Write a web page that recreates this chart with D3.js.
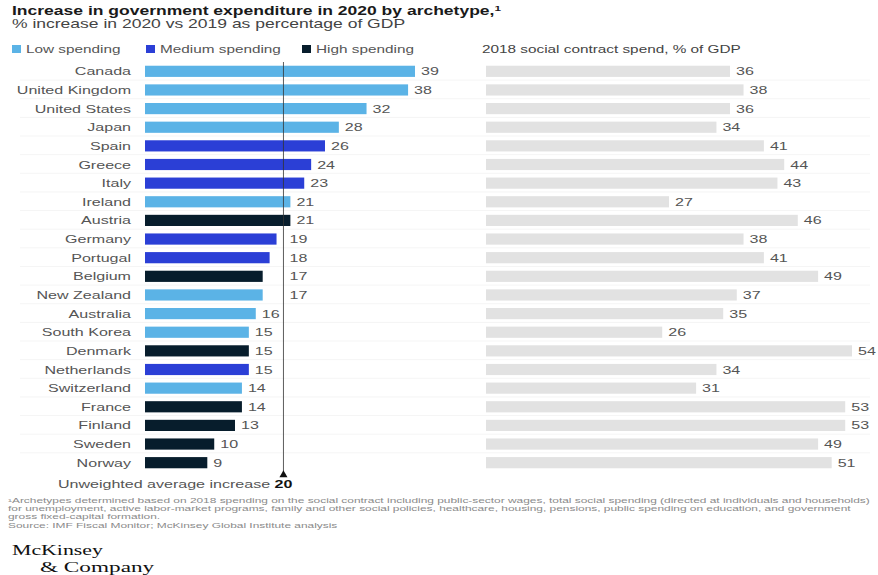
<!DOCTYPE html>
<html><head><meta charset="utf-8">
<script src="https://cdn.jsdelivr.net/npm/d3@7"></script>
<style>body{margin:0;background:#fff;}svg{display:block;font-family:"Liberation Sans",Arial,sans-serif;}</style>
</head><body><svg id="c" width="878" height="575"></svg>
<script>
const countries = ["Canada","United Kingdom","United States","Japan","Spain","Greece","Italy","Ireland","Austria","Germany","Portugal","Belgium","New Zealand","Australia","South Korea","Denmark","Netherlands","Switzerland","France","Finland","Sweden","Norway"];
const increase2020 = [39,38,32,28,26,24,23,21,21,19,18,17,17,16,15,15,15,14,14,13,10,9];
const archetype = ["Low","Low","Low","Low","Medium","Medium","Medium","Low","High","Medium","Medium","High","Low","Low","Low","High","Medium","Low","High","High","High","High"];
const socialSpend2018 = [36,38,36,34,41,44,43,27,46,38,41,49,37,35,26,54,34,31,53,53,49,51];
const archetypes = ["Low","Medium","High"];
const legendLabels = ["Low spending","Medium spending","High spending"];
const averageIncrease = 20;

const K = 1.46; // horizontal text stretch of the reference
const svg = d3.select("#c");
function T(parent, x, y, str, o = {}) {
  const t = parent.append("text")
    .attr("transform", `translate(${x},${y}) scale(${o.k || K},1)`)
    .attr("font-size", o.size || 11)
    .attr("fill", o.fill || "#555")
    .attr("text-anchor", o.anchor || "start");
  if (o.weight) t.attr("font-weight", o.weight);
  if (o.family) t.attr("font-family", o.family);
  if (str !== null) t.text(str);
  return t;
}

const colors = d3.scaleOrdinal().domain(archetypes).range(["#5bb3e6","#2b3fd6","#071d2c"]);
const y = d3.scaleBand().domain(countries).range([62, 472]).paddingInner(0.4).paddingOuter(0.2);
const xL = d3.scaleLinear().domain([0, 39]).range([145, 415]);
const xR = d3.scaleLinear().domain([0, 54]).range([486, 852]);

// faint row separators
svg.append("g").selectAll("line").data(countries.slice(1)).join("line")
  .attr("x1", 20).attr("x2", 870)
  .attr("y1", d => y(d) - y.step()*y.paddingInner()/2 - 0.5).attr("y2", d => y(d) - y.step()*y.paddingInner()/2 - 0.5)
  .attr("stroke", "#f5f5f5").attr("stroke-width", 1);

// Title
const title = T(svg, 12, 15, null, {size: 12, weight: "bold", fill: "#1a1a1a"});
title.append("tspan").text("Increase in government expenditure in 2020 by archetype,");
title.append("tspan").attr("font-size", 8).attr("dy", -4).text("1");
T(svg, 12, 28, "% increase in 2020 vs 2019 as percentage of GDP", {size: 12, fill: "#444"});

// Legend
const lgX = [12, 146, 302];
archetypes.forEach((a, i) => {
  svg.append("rect").attr("x", lgX[i]).attr("y", 45).attr("width", 9).attr("height", 8).attr("fill", colors(a));
  T(svg, lgX[i] + 14, 53, legendLabels[i], {size: 10.5});
});
T(svg, 482, 53, "2018 social contract spend, % of GDP", {size: 10.5, fill: "#444"});

// Country labels
countries.forEach(c => T(svg, 131, y(c) + y.bandwidth()/2 + 4, c, {anchor: "end"}));

// Left bars
const rows = countries.map((c, i) => ({c, v: increase2020[i], a: archetype[i], s: socialSpend2018[i]}));
svg.append("g").selectAll("rect").data(rows).join("rect")
  .attr("x", xL(0)).attr("y", d => y(d.c)).attr("width", d => xL(d.v) - xL(0)).attr("height", y.bandwidth())
  .attr("fill", d => colors(d.a));

const lineX = xL(averageIncrease);
rows.forEach(d => {
  let lx = xL(d.v) + 6;
  const w = String(d.v).length * 6.1 * K;
  if (lx < lineX + 3 && lx + w > lineX + 2) lx = lineX + 6;
  T(svg, lx, y(d.c) + y.bandwidth()/2 + 4, d.v);
});

// Average line
svg.append("line").attr("x1", lineX).attr("x2", lineX).attr("y1", 62).attr("y2", 474)
  .attr("stroke", "#333").attr("stroke-width", 0.8);
svg.append("path").attr("d", d3.symbol(d3.symbolTriangle, 28)()).attr("transform", `translate(${lineX},475)`).attr("fill", "#111");
const avgT = T(svg, lineX + 9, 488, null, {anchor: "end"});
avgT.append("tspan").text("Unweighted average increase ");
avgT.append("tspan").attr("font-weight", "bold").attr("fill", "#111").text(averageIncrease);

// Right bars
svg.append("g").selectAll("rect").data(rows).join("rect")
  .attr("x", xR(0)).attr("y", d => y(d.c)).attr("width", d => xR(d.s) - xR(0)).attr("height", y.bandwidth())
  .attr("fill", "#e2e2e2");
rows.forEach(d => T(svg, xR(d.s) + 6, y(d.c) + y.bandwidth()/2 + 4, d.s));

// Footnotes
const notes = [
  "¹Archetypes determined based on 2018 spending on the social contract including public-sector wages, total social spending (directed at individuals and households)",
  "for unemployment, active labor-market programs, family and other social policies, healthcare, housing, pensions, public spending on education, and government",
  "gross fixed-capital formation.",
  "Source: IMF Fiscal Monitor; McKinsey Global Institute analysis"
];
const probe = svg.append("text").attr("font-size", 6.3).text(notes[0]);
const kf = 863 / probe.node().getComputedTextLength();
probe.remove();
notes.forEach((n, i) => T(svg, 8, 503 + i * 8.2, n, {size: 6.3, k: kf, fill: "#8a8a8a"}));

// Logo
const serif = "'Liberation Serif','DejaVu Serif',serif";
T(svg, 12, 555, "McKinsey", {size: 14, k: 1.56, family: serif, fill: "#111"});
T(svg, 40, 572, "& Company", {size: 14, k: 1.66, family: serif, fill: "#111"});
</script></body></html>
